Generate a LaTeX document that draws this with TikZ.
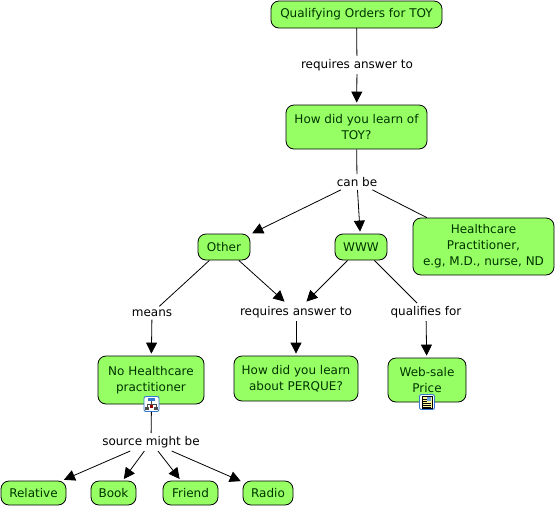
\documentclass[tikz,border=0pt]{standalone}
\usepackage{fontspec}
\setmainfont{DejaVu Sans}
\usepackage{xcolor}
\usetikzlibrary{arrows.meta,positioning,calc}
\definecolor{conceptgreen}{RGB}{150,255,100}
\definecolor{iconblue}{RGB}{50,120,210}
\begin{document}
\begin{tikzpicture}[
    x=1pt, y=-1pt,
    concept/.style={rectangle, draw=black, fill=conceptgreen, text=black!80!green, rounded corners=8pt, align=center, inner sep=0pt, line width=0.8pt, font=\fontsize{12}{16}\selectfont},
    linkphrase/.style={inner sep=3pt, font=\fontsize{12}{14}\selectfont, text=black},
    icon/.style={rectangle, draw=iconblue, fill=white, rounded corners=2pt, minimum size=15pt, inner sep=0pt, line width=0.9pt},
    plain/.style={line width=0.8pt, black},
    arrow/.style={plain, -{Triangle[length=11pt,width=11pt]}, shorten >=2pt}
]
    \useasboundingbox (0,0) rectangle (557,507);

    \node[concept, minimum width=171pt, minimum height=27pt] (toy) at (356.5,14.5) {Qualifying Orders for TOY};
    \node[concept, minimum width=141pt, minimum height=44pt] (learn) at (356.5,127) {How did you learn of\\TOY?};
    \node[concept, minimum width=52pt, minimum height=26pt] (other) at (224,247) {Other};
    \node[concept, minimum width=52pt, minimum height=26pt] (www) at (361,247) {WWW};
    \node[concept, minimum width=141pt, minimum height=57pt] (hcp) at (483.5,246.5) {Healthcare\\Practitioner,\\e.g, M.D., nurse, ND};
    \node[concept, minimum width=106pt, minimum height=48pt] (nohcp) at (151,380) {No Healthcare\\practitioner};
    \node[concept, minimum width=124pt, minimum height=45pt] (perque) at (296,378.5) {How did you learn\\about PERQUE?};
    \node[concept, minimum width=78pt, minimum height=44pt] (price) at (427,380) {Web-sale\\Price};
    \node[concept, minimum width=65pt, minimum height=24pt] (relative) at (33.5,493) {Relative};
    \node[concept, minimum width=45pt, minimum height=24pt] (book) at (113.5,493) {Book};
    \node[concept, minimum width=55pt, minimum height=24pt] (friend) at (190.5,493) {Friend};
    \node[concept, minimum width=50pt, minimum height=24pt] (radio) at (268,493) {Radio};

    % link phrases
    \node[linkphrase] (reqtoy) at (357,65) {requires answer to};
    \node[linkphrase] (canbe) at (357,182) {can be};
    \node[linkphrase] (means) at (152,313) {means};
    \node[linkphrase] (reqperque) at (296,312) {requires answer to};
    \node[linkphrase] (qualifies) at (426,312) {qualifies for};
    \node[linkphrase] (source) at (151,442) {source might be};

    % resource icons
    \node[icon] (iconmap) at (151.5,404) {};
    \node[icon] (icondoc) at (427,402) {};
    \fill[iconblue] (148,398) rectangle (155,401);
    \draw[black!70, line width=0.5pt] (151.5,401) -- (151.5,404) (147,407) -- (147,404) -- (156,404) -- (156,407);
    \fill[black!70] (145,407) rectangle (149,410);
    \fill[black!70] (154,407) rectangle (158,410);
    \fill[red!60!black] (150,405) rectangle (153,408);
    \fill[yellow!40] (422,396) rectangle (432,408);
    \draw[black, line width=0.4pt] (422,396) rectangle (432,408);
    \fill[iconblue!70] (427,397) rectangle (431,401);
    \foreach \y in {399,401,403,405,407}
        \draw[black, line width=0.5pt] (423,\y) -- (426.5,\y);
    \foreach \y in {403,405,407}
        \draw[black, line width=0.5pt] (426.5,\y) -- (431,\y);

    \draw[plain] (toy) -- (reqtoy);
    \draw[arrow] (reqtoy) -- (learn);
    \draw[plain] (learn) -- (canbe);
    \draw[arrow] (canbe) -- (other);
    \draw[arrow] (canbe) -- (www);
    \draw[plain] (canbe) -- (hcp);
    \draw[plain] (other) -- (means);
    \draw[arrow] (means) -- (nohcp);
    \draw[arrow] (other) -- (reqperque);
    \draw[arrow] (www) -- (reqperque);
    \draw[arrow] (reqperque) -- (perque);
    \draw[plain] (www) -- (qualifies);
    \draw[arrow] (qualifies) -- (price);
    \draw[plain] (iconmap) -- (source);
    \draw[arrow] (source) -- (relative);
    \draw[arrow] (source) -- (book);
    \draw[arrow] (source) -- (friend);
    \draw[arrow] (source) -- (radio);
\end{tikzpicture}
\end{document}
